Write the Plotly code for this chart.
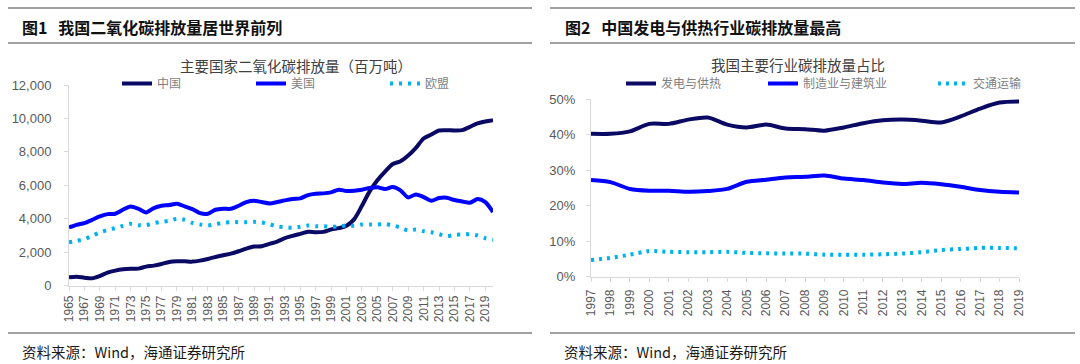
import plotly.graph_objects as go

W, H = 1080, 364

# ---------------- data ----------------
years1 = list(range(1965, 2021))
china = [500, 540, 480, 440, 580, 780, 900, 980, 1020, 1020,
         1140, 1200, 1300, 1420, 1460, 1460, 1440, 1500, 1600, 1720,
         1820, 1920, 2060, 2220, 2340, 2360, 2500, 2640, 2840, 2980,
         3100, 3220, 3200, 3220, 3360, 3440, 3580, 3980, 4780, 5640,
         6300, 6820, 7280, 7440, 7780, 8240, 8800, 9040, 9280, 9300,
         9280, 9300, 9500, 9700, 9820, 9900]
usa = [3480, 3640, 3740, 3940, 4140, 4280, 4300, 4540, 4740, 4600,
       4380, 4640, 4780, 4820, 4900, 4740, 4580, 4340, 4300, 4540,
       4600, 4600, 4780, 5000, 5080, 5000, 4920, 5000, 5100, 5180,
       5220, 5420, 5500, 5520, 5580, 5740, 5660, 5680, 5740, 5840,
       5880, 5780, 5900, 5700, 5280, 5460, 5300, 5080, 5240, 5260,
       5120, 5040, 4960, 5180, 5000, 4400]
eu = [2600, 2680, 2780, 2980, 3180, 3340, 3440, 3580, 3700, 3620,
      3620, 3740, 3820, 3880, 4000, 3940, 3760, 3660, 3600, 3680,
      3760, 3800, 3800, 3800, 3820, 3780, 3680, 3540, 3500, 3460,
      3520, 3600, 3560, 3560, 3520, 3540, 3600, 3580, 3660, 3660,
      3660, 3680, 3600, 3480, 3300, 3360, 3260, 3200, 3080, 2960,
      3040, 3060, 3080, 3000, 2840, 2750]
series1_names = ["中国", "美国", "欧盟"]
y1_ticks = [0, 2000, 4000, 6000, 8000, 10000, 12000]
y1_ticktext = ["0", "2,000", "4,000", "6,000", "8,000", "10,000", "12,000"]
x1_ticks = list(range(1965, 2020, 2))

years2 = list(range(1997, 2020))
power = [40.2, 40.2, 40.9, 43.0, 43.0, 44.2, 44.8, 42.8, 42.0, 42.8,
         41.7, 41.5, 41.1, 42.0, 43.2, 44.0, 44.2, 43.9, 43.4, 45.1,
         47.3, 49.0, 49.3]
manuf = [27.2, 26.6, 24.7, 24.2, 24.2, 23.9, 24.1, 24.7, 26.7, 27.3,
         27.9, 28.1, 28.5, 27.6, 27.2, 26.5, 26.1, 26.4, 26.0, 25.3,
         24.4, 23.9, 23.7]
transport = [4.7, 5.3, 6.2, 7.2, 7.0, 6.9, 6.9, 7.0, 6.7, 6.6,
             6.5, 6.5, 6.2, 6.2, 6.2, 6.3, 6.5, 6.9, 7.5, 7.8,
             8.1, 8.1, 8.0]
series2_names = ["发电与供热", "制造业与建筑业", "交通运输"]
y2_ticks = [0, 10, 20, 30, 40, 50]
y2_ticktext = ["0%", "10%", "20%", "30%", "40%", "50%"]

# ---------------- style ----------------
NAVY = "#0a0a64"
BLUE = "#0000ff"
SKY = "#00b0f0"
CJK = "Noto Sans CJK SC"
LAT = "Liberation Sans, Arial"
AXC = "#d9d9d9"
TXT = "#595959"


def px(x):
    return x / W


def py(y):
    return 1 - y / H


fig = go.Figure()

specs1 = [(china, NAVY, None), (usa, BLUE, None), (eu, SKY, "3px,6px")]
specs2 = [(power, NAVY, None), (manuf, BLUE, None), (transport, SKY, "3px,5px")]

lg = 0
for (vals, col, dash), name in zip(specs1, series1_names):
    lg += 1
    fig.add_trace(go.Scatter(
        x=years1, y=vals, name=name, mode="lines",
        line=dict(color=col, width=4, shape="spline", smoothing=0.8,
                  dash=dash if dash else "solid"),
        xaxis="x", yaxis="y",
        legend="legend" if lg == 1 else f"legend{lg}",
        hoverinfo="skip"))
for (vals, col, dash), name in zip(specs2, series2_names):
    lg += 1
    fig.add_trace(go.Scatter(
        x=years2, y=vals, name=name, mode="lines",
        line=dict(color=col, width=4, shape="spline", smoothing=0.8,
                  dash=dash if dash else "solid"),
        xaxis="x2", yaxis="y2",
        legend=f"legend{lg}",
        hoverinfo="skip"))

axis_common = dict(showgrid=False, zeroline=False, showline=True,
                   linecolor=AXC, linewidth=1, ticks="outside", ticklen=4,
                   tickcolor=AXC, fixedrange=True, automargin=False)

layout = dict(
    template="none",
    width=W, height=H,
    margin=dict(l=0, r=0, t=0, b=0, pad=0, autoexpand=False),
    paper_bgcolor="white", plot_bgcolor="white",
    showlegend=True,
    xaxis=dict(domain=[px(69), px(493)], range=[1965, 2020],
               tickvals=x1_ticks, ticktext=[str(v) for v in x1_ticks],
               tickangle=-90, tickfont=dict(family=LAT, size=12, color=TXT),
               anchor="y", **axis_common),
    yaxis=dict(domain=[py(285.7), py(85)], range=[0, 12000],
               tickvals=y1_ticks, ticktext=y1_ticktext,
               tickfont=dict(family=LAT, size=13, color=TXT),
               ticklabelstandoff=10, anchor="x", **axis_common),
    xaxis2=dict(domain=[px(591), px(1019)], range=[1997, 2019],
                tickvals=years2, ticktext=[str(v) for v in years2],
                tickangle=-90, tickfont=dict(family=LAT, size=12, color=TXT),
                ticklabelstandoff=3, anchor="y2", **axis_common),
    yaxis2=dict(domain=[py(276.7), py(99)], range=[0, 50],
                tickvals=y2_ticks, ticktext=y2_ticktext,
                tickfont=dict(family=LAT, size=13, color=TXT),
                ticklabelstandoff=8, anchor="x2", **axis_common),
)

legend_text_x = [162, 296, 430, 666, 808, 978]
for i, tx in enumerate(legend_text_x):
    key = "legend" if i == 0 else f"legend{i + 1}"
    layout[key] = dict(x=px(tx - 45), y=py(83.5), xanchor="left", yanchor="middle",
                       orientation="h", bgcolor="rgba(0,0,0,0)", borderwidth=0,
                       font=dict(family=CJK, size=12, color="#7f7f7f"),
                       itemclick=False, itemdoubleclick=False)

fig.update_layout(**layout)

# rules
shapes = []
for x0, x1 in [(8, 532), (550, 1075)]:
    for yy in (8, 43, 333):
        shapes.append(dict(type="line", xref="paper", yref="paper",
                           x0=px(x0), x1=px(x1), y0=py(yy), y1=py(yy),
                           line=dict(color="#808080", width=1.5)))
fig.update_layout(shapes=shapes)

annotations = [
    dict(text="<b>图1   我国二氧化碳排放量居世界前列</b>", x=px(20), y=py(27),
         xanchor="left", yanchor="middle", font=dict(family=CJK, size=16, color="#111")),
    dict(text="<b>图2   中国发电与供热行业碳排放量最高</b>", x=px(563), y=py(27),
         xanchor="left", yanchor="middle", font=dict(family=CJK, size=16, color="#111")),
    dict(text="主要国家二氧化碳排放量（百万吨）", x=px(296), y=py(65.5),
         xanchor="center", yanchor="middle", font=dict(family=CJK, size=14.5, color="#404040")),
    dict(text="我国主要行业碳排放量占比", x=px(798), y=py(64.5),
         xanchor="center", yanchor="middle", font=dict(family=CJK, size=14.5, color="#404040")),
    dict(text="资料来源：Wind，海通证券研究所", x=px(20), y=py(351),
         xanchor="left", yanchor="middle", font=dict(family=CJK, size=14.5, color="#1a1a1a")),
    dict(text="资料来源：Wind，海通证券研究所", x=px(562), y=py(351),
         xanchor="left", yanchor="middle", font=dict(family=CJK, size=14.5, color="#1a1a1a")),
]
for a in annotations:
    a.update(xref="paper", yref="paper", showarrow=False)
fig.update_layout(annotations=annotations)

fig.write_html("out.html", config={"displayModeBar": False},
               post_script="document.body.style.margin='0';document.body.style.overflow='hidden';")
